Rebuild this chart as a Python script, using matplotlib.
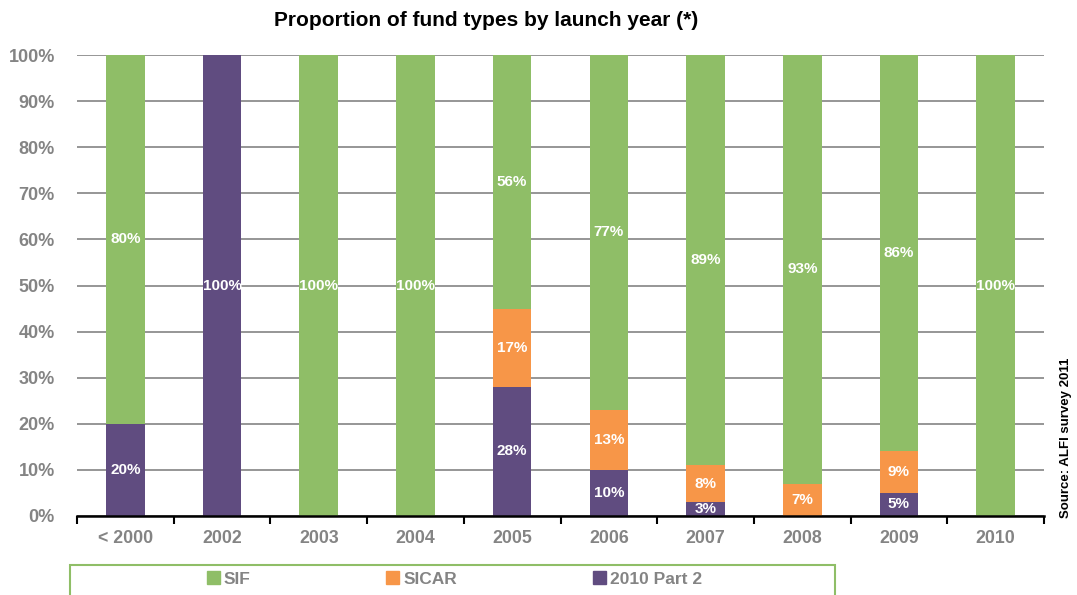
import numpy as np
import matplotlib.pyplot as plt
from matplotlib.patches import Rectangle, Patch

plt.rcParams['font.family'] = ['Liberation Sans', 'DejaVu Sans']

years = ['< 2000', '2002', '2003', '2004', '2005', '2006', '2007', '2008', '2009', '2010']
part2 = [20, 100, 0, 0, 28, 10, 3, 0, 5, 0]
sicar = [0, 0, 0, 0, 17, 13, 8, 7, 9, 0]
sif = [80, 0, 100, 100, 56, 77, 89, 93, 86, 100]

green = '#8fbe67'
orange = '#f79648'
purple = '#604c80'
grey = '#848484'

fig = plt.figure(figsize=(10.77, 5.95), dpi=100)
ax = fig.add_axes([77 / 1077, 1 - 516 / 595, (1044 - 77) / 1077, (516 - 55) / 595])

x = np.arange(len(years))
w = 0.4
p2 = np.array(part2)
sc = np.array(sicar)
sf = np.array(sif)

series = [(p2, np.zeros_like(p2), purple, '2010 Part 2'),
          (sc, p2, orange, 'SICAR'),
          (sf, p2 + sc, green, 'SIF')]

for vals, base, col, name in series:
    bars = ax.bar(x, vals, w, bottom=base, color=col, zorder=3)
    for xi, v, b in zip(x, vals, base):
        if v > 0:
            yc = b + v / 2
            if b + v > 100:
                yc = b + (100 - b) / 2
            ax.text(xi, yc, f'{v}%', ha='center', va='center', color='white',
                    fontsize=11, fontweight='bold', zorder=4)

ax.set_xlim(-0.5, len(years) - 0.5)
ax.set_ylim(0, 100)
ax.set_yticks(np.arange(0, 101, 10))
ax.set_yticklabels([f'{v}%' for v in range(0, 101, 10)])
ax.yaxis.grid(True, color=grey, linewidth=1.2, zorder=0)
ax.tick_params(axis='y', length=0, pad=16, labelsize=13, labelcolor=grey)

ax.set_xticks(x)
ax.set_xticklabels(years)
ax.set_xticks(np.arange(-0.5, len(years)), minor=True)
ax.tick_params(axis='x', which='major', length=0, pad=10, labelsize=12.8, labelcolor=grey)
ax.tick_params(axis='x', which='minor', length=6, width=1.5, direction='out', color='black')
for lab in ax.get_xticklabels() + ax.get_yticklabels():
    lab.set_fontweight('bold')

for s in ['left', 'right', 'top']:
    ax.spines[s].set_visible(False)
ax.spines['bottom'].set_linewidth(1.8)
ax.spines['bottom'].set_zorder(5)

fig.text(486 / 1077, 1 - 21 / 595, 'Proportion of fund types by launch year (*)',
         ha='center', va='center', fontsize=15, fontweight='bold', color='black')

fig.text(1066 / 1077, 1 - 518 / 595, 'Source: ALFI survey 2011', rotation=90,
         ha='center', va='bottom', fontsize=9.5, fontweight='bold', color='black')

# legend box runs off the bottom edge
fig.patches.append(Rectangle((70 / 1077, -0.05), 765 / 1077, 30 / 595 + 0.05,
                             transform=fig.transFigure, fill=False,
                             edgecolor=green, linewidth=1.5))
handles = [Patch(color=green, label='SIF'), Patch(color=orange, label='SICAR'),
           Patch(color=purple, label='2010 Part 2')]
leg = fig.legend(handles=handles, loc='center left', bbox_to_anchor=(198 / 1077, 1 - 579 / 595),
                 ncol=3, frameon=False, handlelength=0.75, handleheight=0.75,
                 handletextpad=0.25, columnspacing=7.8, borderpad=0,
                 prop={'size': 12.5, 'weight': 'bold'})
for t in leg.get_texts():
    t.set_color(grey)

fig.savefig('out.png', dpi=100)
